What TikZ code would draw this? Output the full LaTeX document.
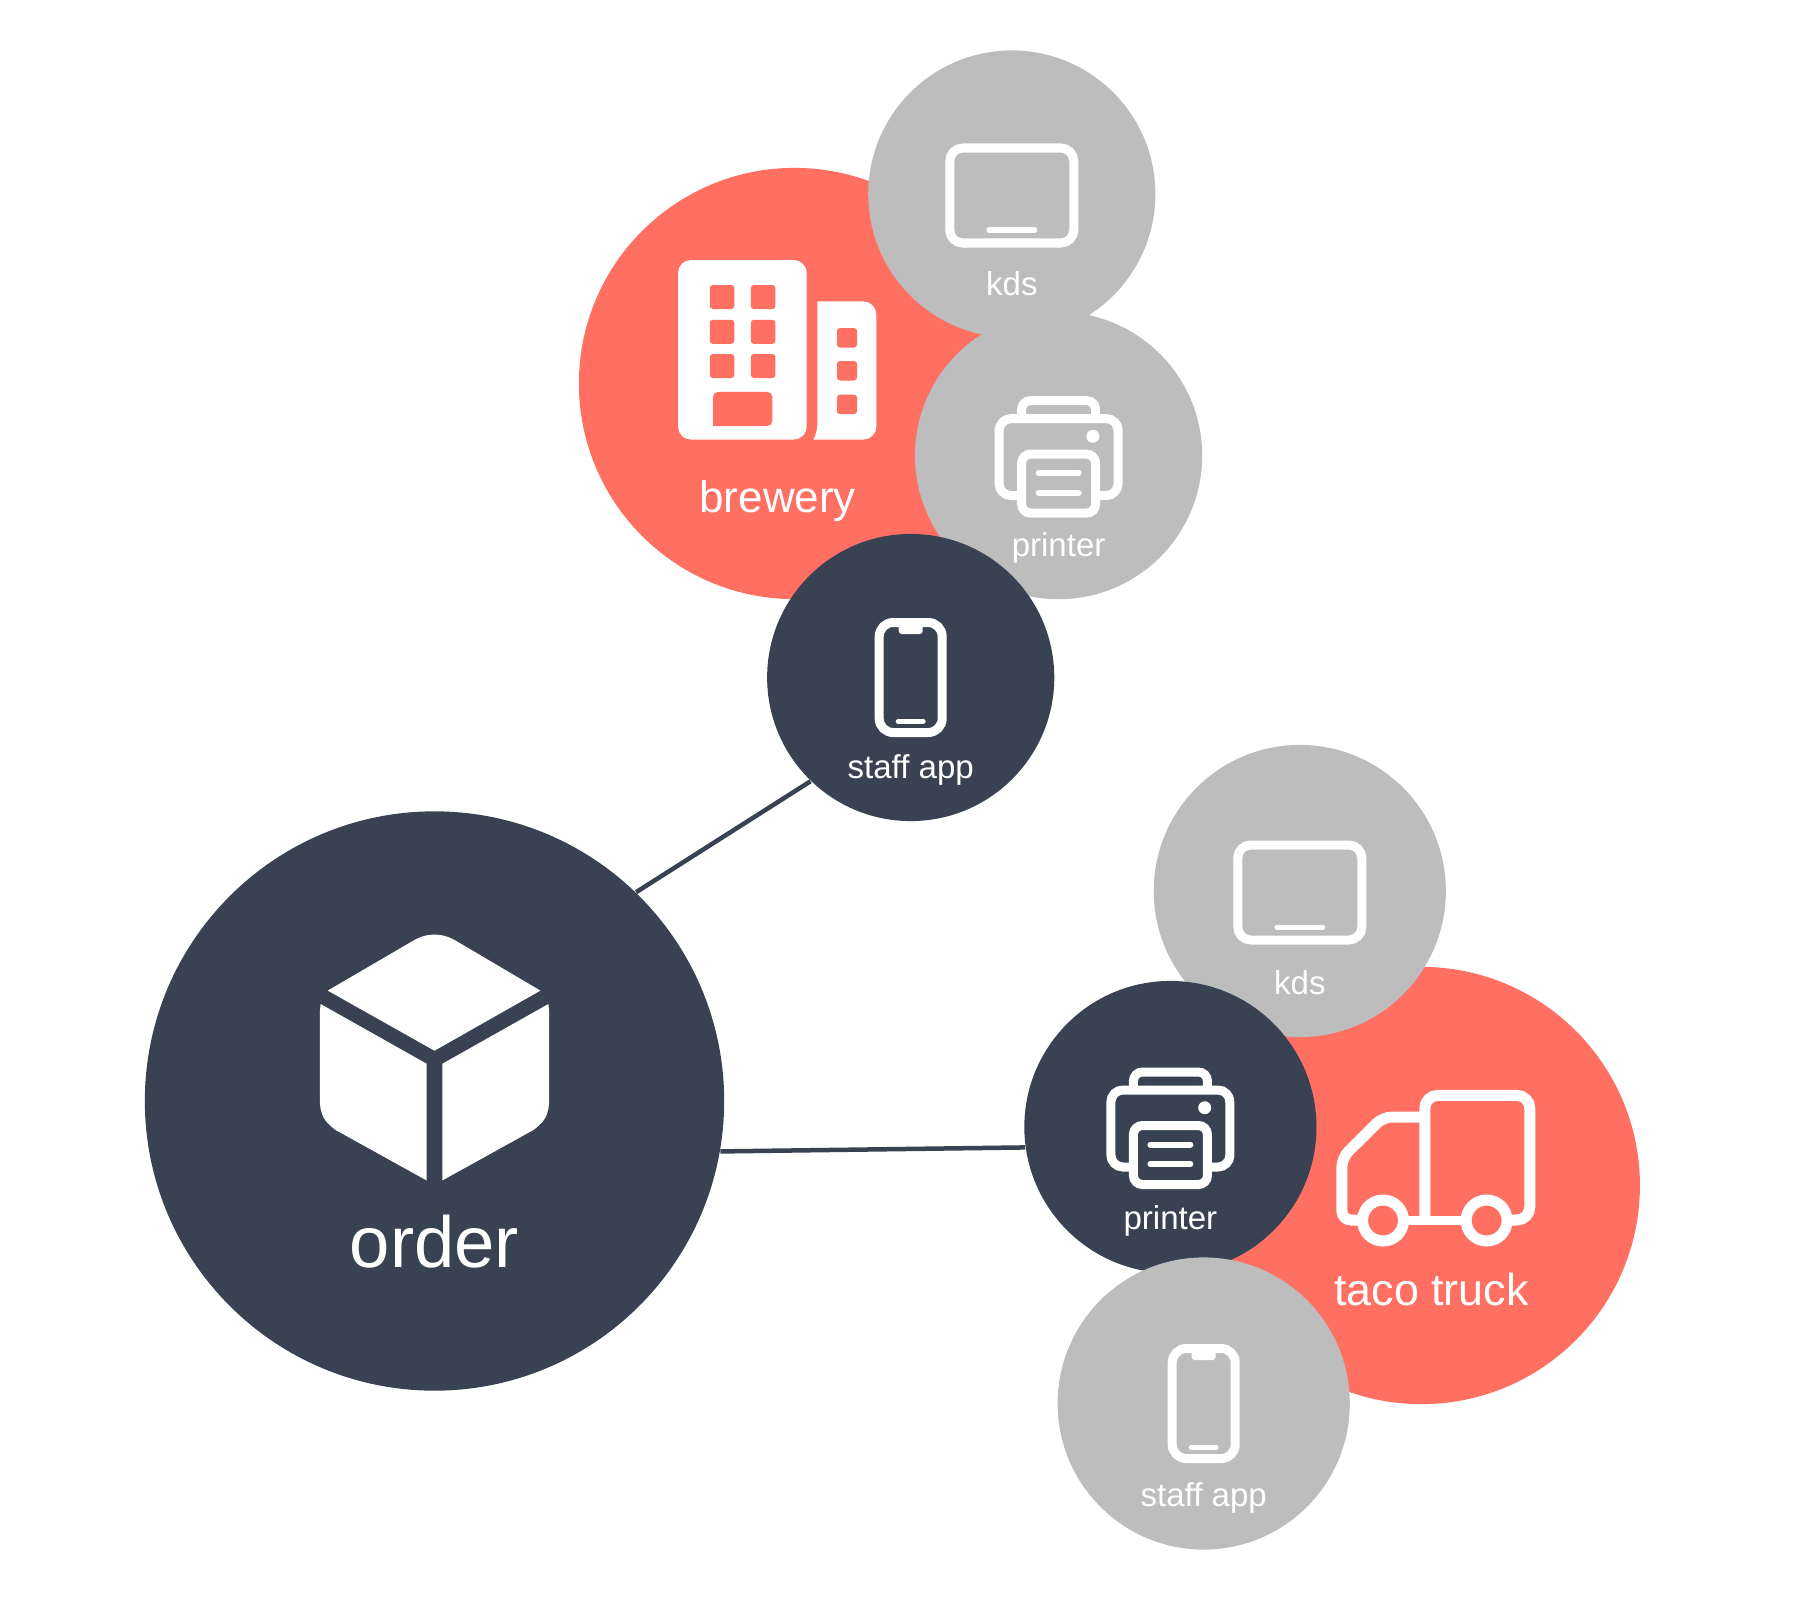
\documentclass[tikz,border=0pt]{standalone}
\usepackage{fontspec}
\setmainfont{Liberation Sans}
\usepackage{xcolor}
\definecolor{slate}{HTML}{394253}
\definecolor{coral}{HTML}{FF7063}
\definecolor{silver}{HTML}{BDBDBD}
\tikzset{
  tablet icon/.pic={
    \draw[icon line,rounded corners=0.13cm] (-62,-46) rectangle (62,49);
    \draw[white,line width=0.05cm,line cap=round] (-23,36) -- (23,36);
  },
  phone icon/.pic={
    \draw[icon line,rounded corners=0.14cm] (-31.5,-55) rectangle (31.5,55);
    \fill[white,rounded corners=0.03cm] (-12,-55) rectangle (12,-43.5);
    \draw[white,line width=0.05cm,line cap=round] (-12.5,44) -- (12.5,44);
  },
  printer icon/.pic={
    \draw[icon line,rounded corners=0.12cm] (-37,40) -- (-59.5,40) -- (-59.5,-37) -- (59.5,-37) -- (59.5,40) -- (37,40);
    \draw[icon line,rounded corners=0.09cm] (-37,-37) -- (-37,-55) -- (37,-55) -- (37,-37);
    \draw[icon line,rounded corners=0.09cm] (-37,-1.5) rectangle (37,57.5);
    \fill[white] (34.3,-19.3) circle (6.5);
    \draw[white,line width=0.06cm,line cap=round] (-20,17.6) -- (20,17.6);
    \draw[white,line width=0.06cm,line cap=round] (-20,37) -- (20,37);
  }
}
\begin{document}
\begin{tikzpicture}[x=0.01cm,y=-0.01cm,
  main node/.style={circle,inner sep=0pt},
  label node/.style={text=white,inner sep=0pt,anchor=base},
  small label/.style={label node,font=\fontsize{9.4}{11}\selectfont},
  large label/.style={label node,font=\fontsize{12.5}{15}\selectfont},
  icon line/.style={white,line width=0.09cm},
  truck line/.style={white,line width=0.11cm},
  link/.style={slate,line width=0.045cm}]
\useasboundingbox (0,0) rectangle (1800,1600);
\node[main node,fill=coral,minimum size=4.31cm] (brewery) at (794.5,383.5) {};
\node[large label] (breweryname) at (777.7,512) {brewery};
\fill[white,rounded corners=0.13cm] (678,260) rectangle (806.7,439.6);
\fill[white,rounded corners=0.13cm] (817.4,301.4) -- (876.3,301.4) -- (876.3,439.6) -- (826,439.6) [sharp corners] -- (813.4,439.6) .. controls (816,434) and (817.4,430) .. (817.4,423) -- cycle;
\foreach \x in {709.8,750.9}
  \foreach \y in {285,319.8,354}
    \fill[coral,rounded corners=0.03cm] (\x,\y) rectangle ++(24.5,24);
\foreach \y in {328,361,394.6}
  \fill[coral,rounded corners=0.03cm] (837,\y) rectangle ++(20,19.5);
\fill[coral,rounded corners=0.05cm] (713,426) -- (713,391.9) -- (772.3,391.9) -- (772.3,426) [sharp corners] -- cycle;

\node[main node,fill=silver,minimum size=2.87cm] (kdsa) at (1011.8,194) {};
\pic at (kdsa) {tablet icon};
\node[small label] (kdsaname) at (1011.8,295) {kds};
\node[main node,fill=silver,minimum size=2.87cm] (printera) at (1058.6,455.6) {};
\pic at (printera) {printer icon};
\node[small label] (printeraname) at (1058.6,556.6) {printer};
\node[main node,fill=slate,minimum size=2.87cm] (staffa) at (910.7,677.5) {};
\pic at (staffa) {phone icon};
\node[small label] (staffaname) at (910.7,778.5) {staff app};

\node[main node,fill=coral,minimum size=4.37cm] (taco) at (1421.3,1185.5) {};
\node[large label,font=\fontsize{12.75}{15}\selectfont] (taconame) at (1431.5,1305.6) {taco truck};
\draw[truck line,rounded corners=0.13cm] (1424.8,1220) -- (1424.8,1095.4) -- (1529.8,1095.4) -- (1529.8,1220) -- (1510,1220);
\draw[truck line,rounded corners=0.09cm] (1424.8,1117) -- (1383,1117) -- (1341.9,1158) -- (1341.9,1220) -- (1360,1220);
\draw[icon line] (1405,1220) -- (1465,1220);
\draw[truck line] (1383,1220.5) circle (20.5);
\draw[truck line] (1486.6,1220.5) circle (20.5);

\node[main node,fill=silver,minimum size=2.92cm] (kdsb) at (1299.8,891) {};
\pic at (kdsb) {tablet icon};
\node[small label] (kdsbname) at (1299.8,994) {kds};
\node[main node,fill=slate,minimum size=2.92cm] (printerb) at (1170.4,1127) {};
\pic at (printerb) {printer icon};
\node[small label] (printerbname) at (1170.4,1229) {printer};
\node[main node,fill=silver,minimum size=2.92cm] (staffb) at (1203.7,1403.5) {};
\pic at (staffb) {phone icon};
\node[small label] (staffbname) at (1203.7,1506) {staff app};

\node[main node,fill=slate,minimum size=5.79cm] (order) at (434.5,1101) {};
\fill[white] (327.7,990.6) -- (411,942) .. controls (427,932) and (442,932) .. (458,942) -- (540.4,990.6) -- (434.5,1050.7) -- cycle;
\fill[white] (320.6,1004) -- (426.6,1063.7) -- (426.6,1180.4) -- (335.6,1130) .. controls (325,1122) and (319.8,1116) .. (319.8,1098) -- (319.8,1012) -- cycle;
\fill[white] (548.4,1004) -- (442.4,1063.7) -- (442.4,1180.4) -- (533.4,1130) .. controls (544,1122) and (549.2,1116) .. (549.2,1098) -- (549.2,1012) -- cycle;
\node[label node,font=\fontsize{20.6}{24}\selectfont] (ordername) at (434.5,1267.4) {order};
\path[link]
(order.46) edge (staffa.226)
(order.-10) edge (printerb.188);
\end{tikzpicture}
\end{document}
